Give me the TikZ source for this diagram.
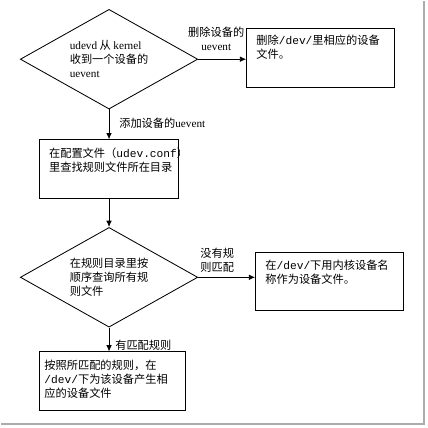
\documentclass[tikz,border=0pt]{standalone}
\usepackage{fontspec}
\setmainfont{Noto Sans CJK SC}
\newfontfamily\latinfont{Liberation Serif}
\setmonofont{Liberation Mono}
\usetikzlibrary{positioning, arrows.meta, shapes.geometric}

\newcommand{\uev}{{\latinfont uevent}}
\newcommand{\devdir}{{\ttfamily /dev/}}

\begin{document}
\begin{tikzpicture}[
    >={Latex[length=4.5pt,width=4pt]},
    node distance=2.75cm and 5.3cm,
    on grid,
    every node/.style={font=\fontsize{8pt}{10pt}\selectfont},
    decision/.style={diamond, draw, line width=0.6pt, minimum width=4.45cm, minimum height=2.5cm, aspect=1.78, inner sep=0pt, align=left},
    stepbox/.style={draw, line width=0.6pt, minimum width=3.7cm, minimum height=1.48cm},
    boxtext/.style={anchor=north west, align=left, inner sep=0pt},
    edgelabel/.style={align=left, inner sep=0pt}
]

% -------------------------
% DECISIONS AND BOXES
% -------------------------
\node[decision] (Receive) {{\latinfont udevd} 从 {\latinfont kernel}\\ 收到一个设备的\\ \uev};

\node[stepbox] (Remove) [right=of Receive, yshift=0.04cm] {};
\node[stepbox, minimum width=3.5cm] (ReadConf) [below=of Receive, yshift=-0.01cm] {};

\node[decision] (Lookup) [below=of ReadConf, yshift=0.04cm] {在规则目录里按\\ 顺序查询所有规\\ 则文件};

\node[stepbox, minimum height=1.45cm] (DefaultName) [right=of Lookup, xshift=0.225cm, yshift=-0.1cm] {};
\node[stepbox, minimum width=3.675cm] (CreateFile) [below=of Lookup, xshift=0.09cm, yshift=0.14cm] {};

% box texts
\node[boxtext] (RemoveText) at ([xshift=0.25cm, yshift=-0.18cm]Remove.north west) {删除\devdir 里相应的设备\\ 文件。};
\begin{scope}
  \clip (ReadConf.north west) rectangle (ReadConf.south east);
  \node[boxtext] (ReadConfText) at ([xshift=0.25cm, yshift=-0.22cm]ReadConf.north west) {在配置文件（{\ttfamily udev.conf}）\\ 里查找规则文件所在目录};
\end{scope}
\node[boxtext] (DefaultNameText) at ([xshift=0.25cm, yshift=-0.2cm]DefaultName.north west) {在\devdir 下用内核设备名\\ 称作为设备文件。};
\node[boxtext] (CreateFileText) at ([xshift=0.13cm, yshift=-0.2cm]CreateFile.north west) {按照所匹配的规则，在\\ \devdir 下为该设备产生相\\ 应的设备文件};

% -------------------------
% TRANSITIONS
% -------------------------
\draw[->, line width=0.6pt] (Receive.east) -- (Receive.east -| Remove.west);
\draw[->, line width=0.6pt] (Receive.south) -- (Receive.south |- ReadConf.north);
\draw[->, line width=0.6pt] (ReadConf.south) -- (ReadConf.south |- Lookup.north);
\draw[->, line width=0.6pt] (Lookup.east) -- (Lookup.east -| DefaultName.west);
\draw[->, line width=0.6pt] (Lookup.south) -- (Lookup.south |- CreateFile.north);

\node[edgelabel, align=center] (RemoveLabel) at ([xshift=-0.75cm, yshift=0.48cm]Remove.west) {删除设备的\\ \uev};
\node[edgelabel, anchor=west] (AddLabel) at ([xshift=0.25cm, yshift=-0.35cm]Receive.south) {添加设备的\uev};
\node[edgelabel] (NoMatchLabel) at ([xshift=0.48cm, yshift=0.43cm]Lookup.east) {没有规\\ 则匹配};
\node[edgelabel, anchor=west] (MatchLabel) at ([xshift=0.15cm, yshift=-0.45cm]Lookup.south) {有匹配规则};

% page frame
\coordinate (PageNW) at ([xshift=-2.7cm, yshift=1.45cm]Receive.center);
\draw[gray!65, line width=0.07cm] ([xshift=10.6cm]PageNW) |- ([yshift=-10.6cm]PageNW);
\useasboundingbox (PageNW) rectangle ++(10.675,-10.7);

\end{tikzpicture}
\end{document}
